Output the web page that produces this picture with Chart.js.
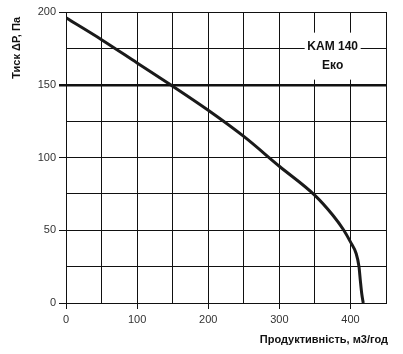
<!DOCTYPE html>
<html>
<head>
<meta charset="utf-8">
<script src="https://cdn.jsdelivr.net/npm/chart.js@4"></script>
<style>
  html, body { margin: 0; padding: 0; background: #fff; }
  #wrap { width: 403px; height: 354px; }
</style>
</head>
<body>
<div id="wrap"><canvas id="c" width="403" height="354"></canvas></div>
<script>
// Характеристика вентилятора КАМ 140 Еко
const flow     = [0, 50, 100, 147, 200, 250, 300, 350, 375, 390, 400, 408, 412, 414, 416, 418];
const pressure = [196, 181, 165, 150, 132.5, 114.5, 94, 74, 60.5, 50.5, 42, 34, 25, 15, 6, 0];
const xTicks = [0, 100, 200, 300, 400];
const yTicks = [0, 50, 100, 150, 200];
const refLine = 150;
const modelName = ['KAM 140', 'Еко'];

const FONT = '"Liberation Sans", Arial, sans-serif';

// підписи осей та табличка моделі
const extras = {
  id: 'extras',
  afterDraw(chart) {
    const { ctx, chartArea: a, scales: { x, y } } = chart;
    ctx.save();
    // табличка
    const cx = x.getPixelForValue(375);
    const cy = y.getPixelForValue(170);
    ctx.fillStyle = '#fff';
    ctx.fillRect(cx - 28, cy - 23, 56, 47);
    ctx.fillStyle = '#111';
    ctx.font = 'bold 12px ' + FONT;
    ctx.textAlign = 'center';
    ctx.textBaseline = 'middle';
    ctx.fillText(modelName[0], cx, cy - 9);
    ctx.fillText(modelName[1], cx, cy + 10);
    // вісь X
    ctx.font = 'bold 11px ' + FONT;
    ctx.textAlign = 'right';
    ctx.fillText('Продуктивність, м3/год', a.right + 2, 340);
    // вісь Y
    ctx.translate(17, 12);
    ctx.rotate(-Math.PI / 2);
    ctx.textAlign = 'right';
    ctx.fillText('Тиск ΔP, Па', -5, 0);
    ctx.restore();
  }
};

new Chart(document.getElementById('c'), {
  type: 'line',
  data: {
    datasets: [{
      data: flow.map((v, i) => ({ x: v, y: pressure[i] })),
      borderColor: '#1a1a1a',
      borderWidth: 3,
      pointRadius: 0,
      cubicInterpolationMode: 'monotone',
      fill: false
    }]
  },
  options: {
    responsive: false,
    animation: false,
    layout: { padding: { top: 12, right: 17, left: 0, bottom: 0 } },
    plugins: { legend: { display: false }, tooltip: { enabled: false } },
    scales: {
      x: {
        type: 'linear', min: 0, max: 450,
        afterFit: s => { s.height = 51; },
        border: { color: '#111', width: 1 },
        grid: {
          color: '#111', lineWidth: 1, tickLength: 6,
          tickColor: c => xTicks.includes(c.tick.value) ? '#111' : 'rgba(0,0,0,0)'
        },
        ticks: {
          stepSize: 50, padding: 4, maxRotation: 0, color: '#333',
          font: { family: FONT, size: 11 },
          callback: v => xTicks.includes(v) ? v : ''
        }
      },
      y: {
        min: 0, max: 200,
        afterFit: s => { s.width = 66; },
        border: { color: '#111', width: 1 },
        grid: {
          color: '#111',
          lineWidth: c => c.tick && c.tick.value === refLine ? 2.5 : 1,
          tickLength: 7,
          tickColor: c => yTicks.includes(c.tick.value) ? '#111' : 'rgba(0,0,0,0)'
        },
        ticks: {
          stepSize: 25, padding: 3, color: '#333',
          font: { family: FONT, size: 11 },
          callback: v => yTicks.includes(v) ? v : ''
        }
      }
    }
  },
  plugins: [extras]
});
</script>
</body>
</html>
